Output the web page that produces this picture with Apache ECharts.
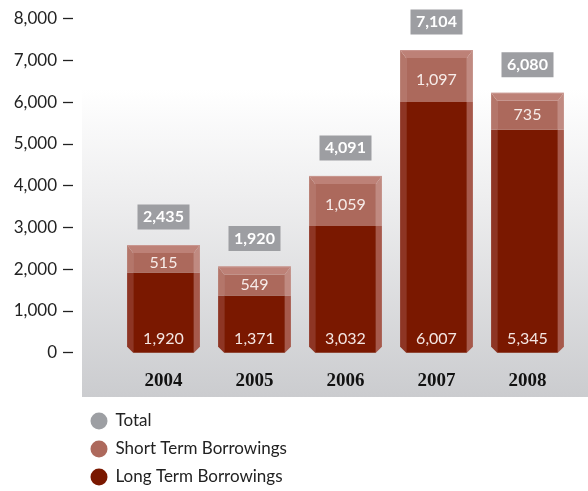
<!DOCTYPE html>
<html>
<head>
<meta charset="utf-8">
<script src="https://cdn.jsdelivr.net/npm/echarts@6/dist/echarts.min.js"></script>
<style>html,body{margin:0;padding:0;background:#fff}#c{width:588px;height:491px}</style>
</head>
<body>
<div id="c"></div>
<script>
const years = ['2004', '2005', '2006', '2007', '2008'];
const longTerm = [1920, 1371, 3032, 6007, 5345];
const shortTerm = [515, 549, 1059, 1097, 735];
const totals = [2435, 1920, 4091, 7104, 6080];
const yTicks = [0, 1000, 2000, 3000, 4000, 5000, 6000, 7000, 8000];

const fmt = v => v.toLocaleString('en-US');
const FONT = 'Lato, "Noto Sans", sans-serif';
const S = 6; // side strip width
const C = 6; // bottom chamfer

function longItem(params, api) {
  const i = api.value(0);
  const p0 = api.coord([i, 0]);
  const p1 = api.coord([i, api.value(1)]);
  const w = api.size([1, 0])[0] * 0.8;
  const x0 = p0[0] - w / 2, x1 = p0[0] + w / 2;
  const yb = p0[1], yt = p1[1];
  return {
    type: 'group',
    children: [
      { type: 'rect', shape: { x: x0 + S, y: yt, width: w - 2 * S, height: yb - yt }, style: { fill: '#7a1800' } },
      { type: 'polygon', shape: { points: [[x0, yt], [x0 + S, yt], [x0 + S, yb], [x0, yb - C]] }, style: { fill: '#8e3524' } },
      { type: 'polygon', shape: { points: [[x1 - S, yt], [x1, yt], [x1, yb - C], [x1 - S, yb]] }, style: { fill: '#a6594b' } },
      { type: 'text', style: { text: fmt(api.value(1)), x: p0[0], y: yb - 14, align: 'center', verticalAlign: 'middle', fill: '#f4e6e2', fontSize: 16, fontFamily: FONT } }
    ]
  };
}

function shortItem(params, api) {
  const i = api.value(0);
  const base = api.value(1), val = api.value(2);
  const pl = api.coord([i, base]);
  const pt = api.coord([i, base + val]);
  const w = api.size([1, 0])[0] * 0.8;
  const x0 = pl[0] - w / 2, x1 = pl[0] + w / 2;
  const yl = pl[1], ys = pt[1];
  const top = ys - 6, inner = ys + 2;
  return {
    type: 'group',
    children: [
      { type: 'rect', shape: { x: x0 + S, y: inner, width: w - 2 * S, height: yl - inner }, style: { fill: '#ac695c' } },
      { type: 'polygon', shape: { points: [[x0, top], [x0 + S, inner], [x0 + S, yl], [x0, yl]] }, style: { fill: '#b4766a' } },
      { type: 'polygon', shape: { points: [[x1, top], [x1 - S, inner], [x1 - S, yl], [x1, yl]] }, style: { fill: '#c08a81' } },
      { type: 'polygon', shape: { points: [[x0, top], [x1, top], [x1 - S, inner], [x0 + S, inner]] }, style: { fill: '#bd8177' } },
      { type: 'line', shape: { x1: x0, y1: top + 0.5, x2: x1, y2: top + 0.5 }, style: { stroke: '#c99790', lineWidth: 1 } },
      { type: 'text', style: { text: fmt(val), x: pl[0], y: (inner + yl) / 2, align: 'center', verticalAlign: 'middle', fill: '#f7ece9', fontSize: 16, fontFamily: FONT } }
    ]
  };
}

function totalItem(params, api) {
  const i = api.value(0);
  const p = api.coord([i, api.value(1)]);
  const bw = 52, bh = 25;
  const cy = p[1] - 34;
  return {
    type: 'group',
    children: [
      { type: 'rect', shape: { x: p[0] - bw / 2, y: cy - bh / 2, width: bw, height: bh }, style: { fill: '#9d9ea2' } },
      { type: 'text', style: { text: fmt(api.value(1)), x: p[0], y: cy, align: 'center', verticalAlign: 'middle', fill: '#ffffff', fontSize: 16, fontWeight: 'bold', fontFamily: FONT } }
    ]
  };
}

const chart = echarts.init(document.getElementById('c'), null, { renderer: 'canvas' });
chart.setOption({
  animation: false,
  backgroundColor: '#ffffff',
  graphic: [{
    type: 'rect', z: -10, silent: true,
    shape: { x: 82, y: 89, width: 506, height: 308 },
    style: {
      fill: new echarts.graphic.LinearGradient(0, 0, 0, 1, [
        { offset: 0, color: '#ffffff' },
        { offset: 0.35, color: '#eeeeef' },
        { offset: 1, color: '#cbcccf' }
      ])
    }
  }],
  grid: { left: 118, right: 15, top: 18.7, bottom: 138.3 },
  xAxis: {
    type: 'category', data: years,
    axisLine: { show: false }, axisTick: { show: false },
    axisLabel: { margin: 19, fontSize: 19, fontWeight: 'bold', fontFamily: '"Liberation Serif", serif', color: '#111' }
  },
  yAxis: {
    type: 'value', min: 0, max: 8000, interval: 1000, offset: 45,
    axisLine: { show: false },
    axisTick: { show: true, length: 10, lineStyle: { color: '#222', width: 1.3 } },
    splitLine: { show: false },
    axisLabel: { margin: 16, fontSize: 17, fontFamily: FONT, color: '#222', formatter: v => yTicks.includes(v) ? fmt(v) : '' }
  },
  legend: {
    orient: 'vertical', left: 90.5, top: 412.5, padding: 0, itemWidth: 17, itemHeight: 17, itemGap: 11, icon: 'circle',
    data: ['Total', 'Short Term Borrowings', 'Long Term Borrowings'],
    textStyle: { fontSize: 17, fontFamily: FONT, color: '#222', padding: [0, 0, 0, 3] }
  },
  series: [
    { name: 'Long Term Borrowings', type: 'custom', renderItem: longItem, itemStyle: { color: '#7a1800' },
      encode: { x: 0, y: 1 }, data: longTerm.map((v, i) => [i, v]) },
    { name: 'Short Term Borrowings', type: 'custom', renderItem: shortItem, itemStyle: { color: '#ad695c' },
      encode: { x: 0, y: [1, 2] }, data: shortTerm.map((v, i) => [i, longTerm[i], v]) },
    { name: 'Total', type: 'custom', renderItem: totalItem, itemStyle: { color: '#9d9fa3' },
      encode: { x: 0, y: 1 }, data: totals.map((v, i) => [i, v]) }
  ]
});
</script>
</body>
</html>
